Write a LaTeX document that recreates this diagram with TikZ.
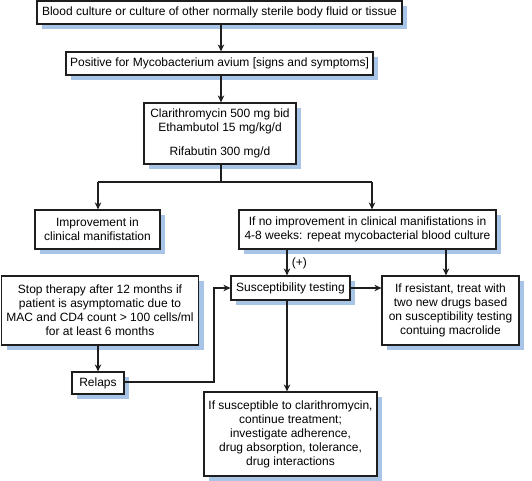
\documentclass[tikz,border=0pt]{standalone}
\usepackage{fontspec}
\setmainfont{Liberation Sans}
\usetikzlibrary{arrows.meta,shadows,calc}
\definecolor{shadowblue}{RGB}{168,196,230}
\definecolor{linegray}{RGB}{30,30,30}
\tikzset{
  box/.style={draw=linegray, line width=1.2pt, fill=white, inner sep=0pt, align=center,
    font=\fontsize{12}{14}\selectfont,
    drop shadow={shadow xshift=5pt, shadow yshift=-5pt, fill=shadowblue, opacity=1}},
  arr/.style={draw=linegray, line width=1.2pt, -{Stealth[length=7pt,width=6.5pt]}},
  ln/.style={draw=linegray, line width=1.2pt}
}
\begin{document}
\begin{tikzpicture}[x=1pt,y=-1pt]
\useasboundingbox (0,0) rectangle (532,481);
\node[box, minimum width=365pt, minimum height=23pt] (b1) at (219.5,12.5)
  {Blood culture or culture of other normally sterile body fluid or tissue};
\node[box, minimum width=307pt, minimum height=23pt] (b2) at (219.5,63.5)
  {Positive for Mycobacterium avium [signs and symptoms]};
\node[box, minimum width=152pt, minimum height=61pt] (b3) at (220,133.5)
  {Clarithromycin 500 mg bid\\Ethambutol 15 mg/kg/d\\[10pt]Rifabutin 300 mg/d};
\node[box, minimum width=125pt, minimum height=39pt] (b4) at (97.5,229.5)
  {Improvement in\\clinical manifistation};
\node[box, minimum width=257pt, minimum height=39pt] (b5) at (367.5,229.5)
  {If no improvement in clinical manifistations in\\4-8 weeks: repeat mycobacterial blood culture};
\node[box, minimum width=197pt, minimum height=69pt] (b6) at (100,310.5)
  {Stop therapy after 12 months if\\patient is asymptomatic due to\\MAC and CD4 count > 100 cells/ml\\for at least 6 months};
\node[box, minimum width=119pt, minimum height=24pt] (sus) at (290.5,288)
  {Susceptibility testing};
\node[box, minimum width=137pt, minimum height=69pt] (b8) at (450.5,310.5)
  {If resistant, treat with\\two new drugs based\\on susceptibility testing\\contuing macrolide};
\node[box, minimum width=52pt, minimum height=22pt] (rel) at (98,383)
  {Relaps};
\node[box, minimum width=173pt, minimum height=84pt] (b9) at (290.5,434)
  {If susceptible to clarithromycin,\\continue treatment;\\investigate adherence,\\drug absorption, tolerance,\\drug interactions};
\coordinate (split) at (221,182);
\coordinate (rl) at (214,382);
\coordinate (xl) at (98,0);
\coordinate (xr) at (372,0);
\coordinate (xs) at (287,0);
\coordinate (x8) at (446,0);
\draw[arr] (b1.south -| split) -- (b2.north -| split);
\draw[arr] (b2.south -| split) -- (b3.north -| split);
\draw[ln] (b3.south -| split) -- (split);
\draw[ln] (split -| xl) -- (split -| xr);
\draw[arr] (split -| xl) -- (b4.north -| xl);
\draw[arr] (split -| xr) -- (b5.north -| xr);
\draw[arr] (b5.south -| xs) -- node[right, font=\fontsize{12}{14}\selectfont, xshift=1pt, yshift=-1pt]{(+)} (sus.north -| xs);
\draw[arr] (b5.south -| x8) -- (b8.north -| x8);
\draw[arr] (sus.east) -- (b8.west |- sus.east);
\draw[arr] (b6.south -| rel.north) -- (rel.north);
\draw[arr] (rel.east |- rl) -- (rl) |- (sus.west);
\draw[arr] (sus.south -| xs) -- (b9.north -| xs);
\end{tikzpicture}
\end{document}
